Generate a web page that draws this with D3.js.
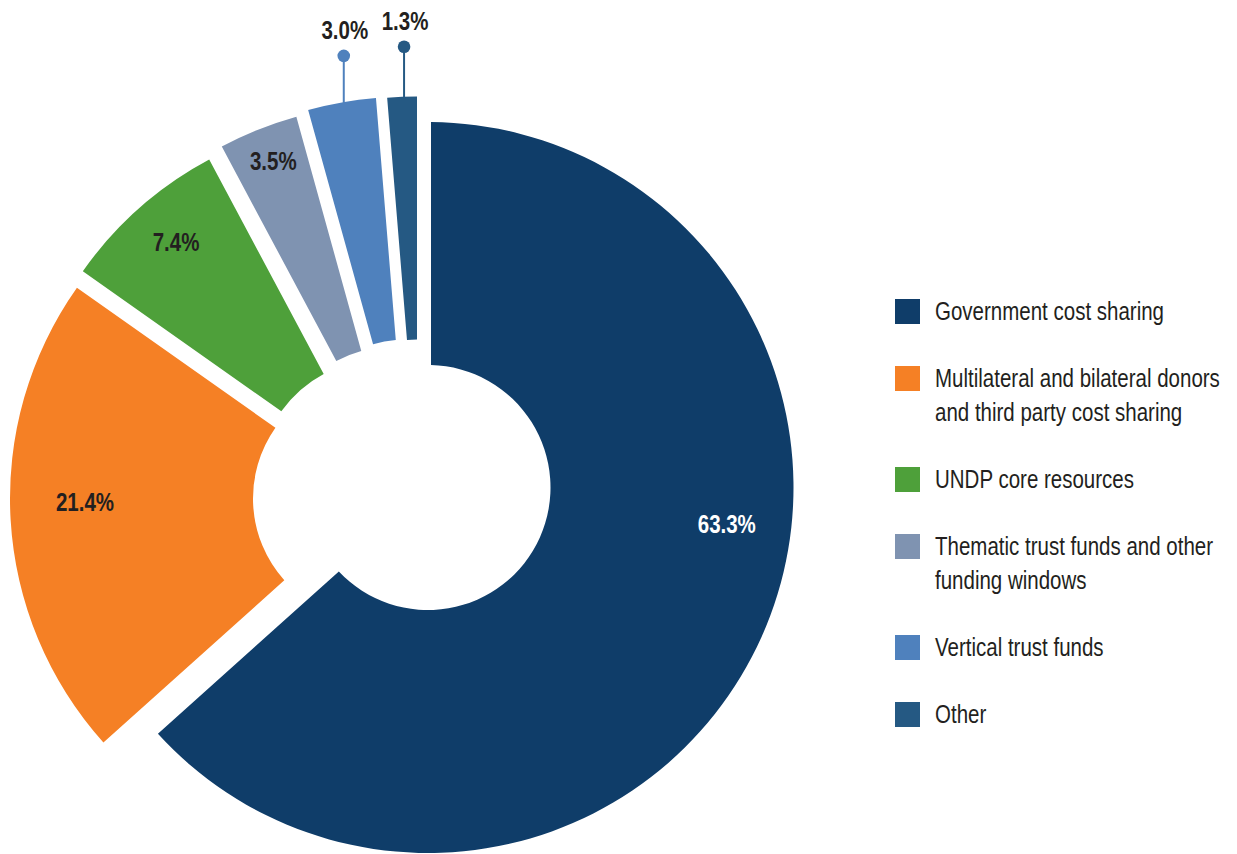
<!DOCTYPE html>
<html>
<head>
<meta charset="utf-8">
<script src="https://cdn.jsdelivr.net/npm/d3@7"></script>
<style>
  body { margin: 0; background: #ffffff; }
  svg text { font-family: "Liberation Sans", Arial, sans-serif; }
</style>
</head>
<body>
<svg id="chart" width="1237" height="854"></svg>
<script>
// Funding sources, share of total (%)
const categories = [
  "Government cost sharing",
  "Multilateral and bilateral donors and third party cost sharing",
  "UNDP core resources",
  "Thematic trust funds and other funding windows",
  "Vertical trust funds",
  "Other"
];
const shares = [63.3, 21.4, 7.4, 3.5, 3.0, 1.3];
const shareLabels = ["63.3%", "21.4%", "7.4%", "3.5%", "3.0%", "1.3%"];
const legendLines = [
  ["Government cost sharing"],
  ["Multilateral and bilateral donors", "and third party cost sharing"],
  ["UNDP core resources"],
  ["Thematic trust funds and other", "funding windows"],
  ["Vertical trust funds"],
  ["Other"]
];
const colors = ["#0f3d69", "#f58025", "#4ea03a", "#7f93b1", "#4f81bd", "#255983"];

// Layout
const center = [400, 480];
const outerR = 365.5, innerR = 122.5;
const narrow = 0.82;    // horizontal squeeze giving a condensed type face
// exploded layout: each slice is pulled away from the common centre by its own offset
const sliceShift = [[28, 7.5], [-24.5, 18.5], [-18.6, 2], [-6, -11], [5.8, -17.8], [17, -18]];
const slicePad = [6, 0, 0, 0, 0, 0]; // extra trim along the slice sides, px
// inside labels: radius and angular nudge (deg); small slices use a callout above
const labelPlacement = [
  { r: 301, turn: -17.1, fill: "#ffffff" },
  { r: 290.5, turn: 2.6, fill: "#231f20" },
  { r: 316, turn: 0.9, fill: "#231f20" },
  { r: 330.7, turn: 0.4, fill: "#231f20" },
  { callout: 46.5, nudge: 2, fill: "#231f20" },
  { callout: 50, nudge: 2, fill: "#231f20" }
];

const svg = d3.select("#chart");

const rows = categories.map((c, i) => ({ name: c, value: shares[i], label: shareLabels[i], color: colors[i], i }));

const pie = d3.pie().sort(null).value(d => d.value);
const arc = d3.arc()
  .innerRadius(innerR).outerRadius(outerR)
  .padAngle(d => slicePad[d.data.i] / outerR).padRadius(outerR);

const arcs = pie(rows);

const slices = svg.append("g").attr("class", "slices")
  .selectAll("g")
  .data(arcs)
  .join("g")
  .attr("transform", d => {
    const s = sliceShift[d.data.i];
    return `translate(${center[0] + s[0]},${center[1] + s[1]})`;
  });

slices.append("path")
  .attr("d", arc)
  .attr("fill", d => d.data.color);

const polar = (r, a) => [r * Math.sin(a), -r * Math.cos(a)];

function condensedText(sel, x, y) {
  return sel.append("text")
    .attr("transform", `translate(${x},${y}) scale(${narrow},1)`);
}

// value labels
slices.each(function (d) {
  const g = d3.select(this);
  const p = labelPlacement[d.data.i];
  const mid = (d.startAngle + d.endAngle) / 2;
  if (p.callout) {
    const [px, y0] = polar(outerR, mid);
    const x0 = px + p.nudge;
    const y1 = y0 - p.callout;
    g.append("line")
      .attr("x1", x0).attr("x2", x0)
      .attr("y1", y0 + 2).attr("y2", y1)
      .attr("stroke", d.data.color)
      .attr("stroke-width", 2);
    g.append("circle")
      .attr("cx", x0).attr("cy", y1)
      .attr("r", 6.3)
      .attr("fill", d.data.color);
    condensedText(g, x0 + 1, y1 - 17)
      .attr("text-anchor", "middle")
      .attr("font-size", 25)
      .attr("font-weight", "bold")
      .attr("fill", p.fill)
      .text(d.data.label);
  } else {
    const [x, y] = polar(p.r, mid + p.turn * Math.PI / 180);
    condensedText(g, x, y + 9)
      .attr("text-anchor", "middle")
      .attr("font-size", 25)
      .attr("font-weight", "bold")
      .attr("fill", p.fill)
      .text(d.data.label);
  }
});

// legend
const legend = svg.append("g").attr("class", "legend");
const legendX = 895, legendTop = 299, swatch = 25, lineH = 34, itemGap = 33;
let itemY = legendTop;
rows.forEach((d, i) => {
  const item = legend.append("g").attr("transform", `translate(${legendX},${itemY})`);
  item.append("rect")
    .attr("width", swatch).attr("height", swatch)
    .attr("fill", d.color);
  const t = condensedText(item, 40, 21)
    .attr("font-size", 25)
    .attr("fill", "#231f20");
  legendLines[i].forEach((ln, k) => {
    t.append("tspan").attr("x", 0).attr("dy", k === 0 ? 0 : lineH).text(ln);
  });
  itemY += legendLines[i].length * lineH + itemGap;
});
</script>
</body>
</html>
